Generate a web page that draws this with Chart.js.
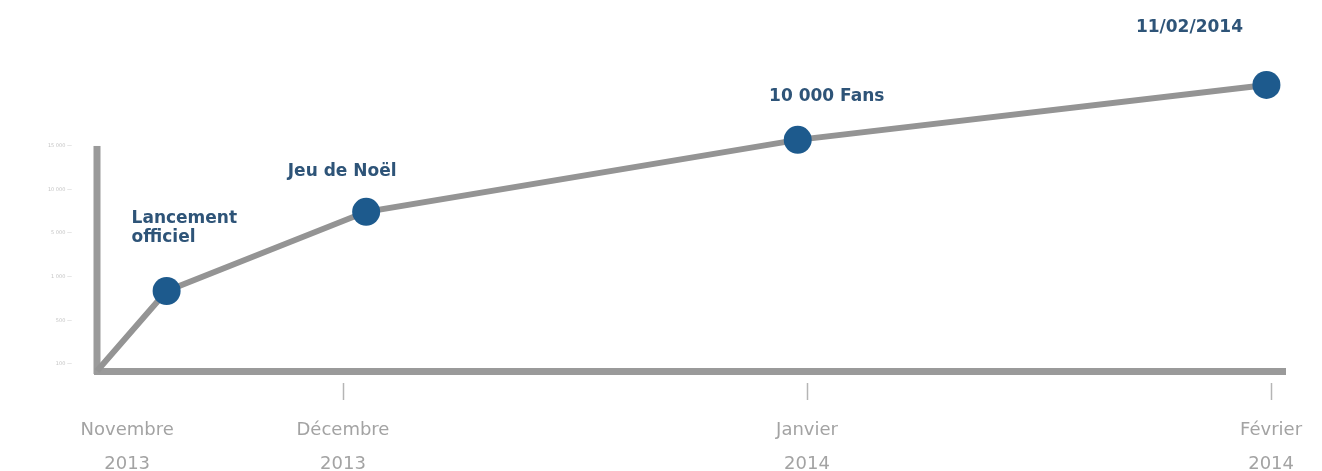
<!DOCTYPE html>
<html lang="fr">
<head>
  <meta charset="UTF-8" />
  <title>Fans</title>
  <script src="https://cdn.jsdelivr.net/npm/chart.js"></script>
  <style>
    html, body { margin: 0; padding: 0; background: #fff; }
    #wrap { width: 1322px; height: 471px; position: relative; }
  </style>
</head>
<body>
  <div id="wrap"><canvas id="fansChart"></canvas></div>

  <script>
    // x in months (Décembre = 1, Janvier = 2, Février = 3), y in tick steps
    const xValues = [0.47, 0.62, 1.05, 1.98, 2.99];
    const yValues = [-0.16, 1.675, 3.49, 5.14, 6.40];
    const pointLabels = [null, ['Lancement', 'officiel'], ['Jeu de Noël'], ['10 000 Fans'], ['11/02/2014']];

    const monthTicks = [0.535, 1, 2, 3];
    const monthLabels = [['Novembre', '2013'], ['Décembre', '2013'], ['Janvier', '2014'], ['Février', '2014']];
    const showTickMark = [false, true, true, true];

    const yTicks = [0, 1, 2, 3, 4, 5];
    const yLabels = ['100', '500', '1 000', '5 000', '10 000', '15 000'];

    // label placement relative to each point (dx, dy, align)
    const labelOffsets = [null, [-35, -72, 'left'], [-24, -40, 'center'], [29, -43, 'center'], [-77, -57, 'center']];

    const blue = '#1d5a8d';
    const labelBlue = '#2e5478';
    const grey = '#949494';
    const axisGrey = '#9a9a9a';

    const pointLabelPlugin = {
      id: 'pointLabels',
      afterDatasetsDraw(chart) {
        const ctx = chart.ctx;
        const meta = chart.getDatasetMeta(0);
        ctx.save();
        ctx.font = 'bold 17px "DejaVu Sans", Verdana, sans-serif';
        ctx.fillStyle = labelBlue;
        ctx.textBaseline = 'middle';
        meta.data.forEach((pt, i) => {
          const lines = pointLabels[i];
          if (!lines) return;
          const [dx, dy, align] = labelOffsets[i];
          ctx.textAlign = align;
          lines.forEach((line, j) => ctx.fillText(line, pt.x + dx, pt.y + dy + j * 19));
        });
        ctx.restore();
      }
    };

    // y axis line only runs up to the top tick; month tick marks sit below the x axis
    const axisPlugin = {
      id: 'axisMarks',
      beforeDatasetsDraw(chart) {
        const ctx = chart.ctx;
        const y = chart.scales.y;
        const x = chart.scales.x;
        ctx.save();
        ctx.fillStyle = axisGrey;
        const top = y.getPixelForValue(yTicks[yTicks.length - 1]);
        ctx.fillRect(x.left - 3.5, top, 7, y.bottom - top + 3);
        ctx.restore();
      },
      afterDraw(chart) {
        const ctx = chart.ctx;
        const x = chart.scales.x;
        ctx.save();
        ctx.strokeStyle = '#b5b5b5';
        ctx.lineWidth = 1.5;
        monthTicks.forEach((v, i) => {
          if (!showTickMark[i]) return;
          const px = Math.round(x.getPixelForValue(v)) + 0.5;
          ctx.beginPath();
          ctx.moveTo(px, x.top + 12);
          ctx.lineTo(px, x.top + 29);
          ctx.stroke();
        });
        ctx.restore();
      }
    };

    new Chart(document.getElementById('fansChart'), {
      type: 'line',
      data: {
        datasets: [{
          data: xValues.map((x, i) => ({ x: x, y: yValues[i] })),
          borderColor: grey,
          borderWidth: 6,
          tension: 0,
          pointRadius: [0, 14, 14, 14, 14],
          pointHoverRadius: [0, 14, 14, 14, 14],
          pointBackgroundColor: blue,
          pointBorderColor: blue,
          pointBorderWidth: 0,
          clip: false
        }]
      },
      options: {
        responsive: true,
        maintainAspectRatio: false,
        animation: false,
        layout: { padding: { top: 40, right: 37, left: 0, bottom: 0 } },
        plugins: {
          legend: { display: false },
          tooltip: { enabled: false }
        },
        scales: {
          x: {
            type: 'linear',
            min: 0.47,
            max: 3.03,
            afterBuildTicks: (axis) => { axis.ticks = monthTicks.map(v => ({ value: v })); },
            afterFit: (axis) => { axis.height = 100; axis.paddingLeft = 0; axis.paddingRight = 0; },
            border: { display: true, color: axisGrey, width: 7 },
            grid: { display: false },
            ticks: {
              autoSkip: false,
              maxRotation: 0,
              padding: 34,
              color: '#a3a3a3',
              font: { family: '"DejaVu Sans", Verdana, sans-serif', size: 18, lineHeight: 1.9 },
              callback: (value, index) => monthLabels[index]
            }
          },
          y: {
            type: 'linear',
            min: -0.16,
            max: 7.43,
            afterBuildTicks: (axis) => { axis.ticks = yTicks.map(v => ({ value: v })); },
            afterFit: (axis) => { axis.width = 97; },
            border: { display: false },
            grid: { display: false },
            ticks: {
              padding: 17,
              color: '#c4c4c4',
              font: { family: '"DejaVu Sans", sans-serif', size: 5 },
              callback: (value, index) => yLabels[index] + ' \u2014'
            }
          }
        }
      },
      plugins: [pointLabelPlugin, axisPlugin]
    });
  </script>
</body>
</html>
